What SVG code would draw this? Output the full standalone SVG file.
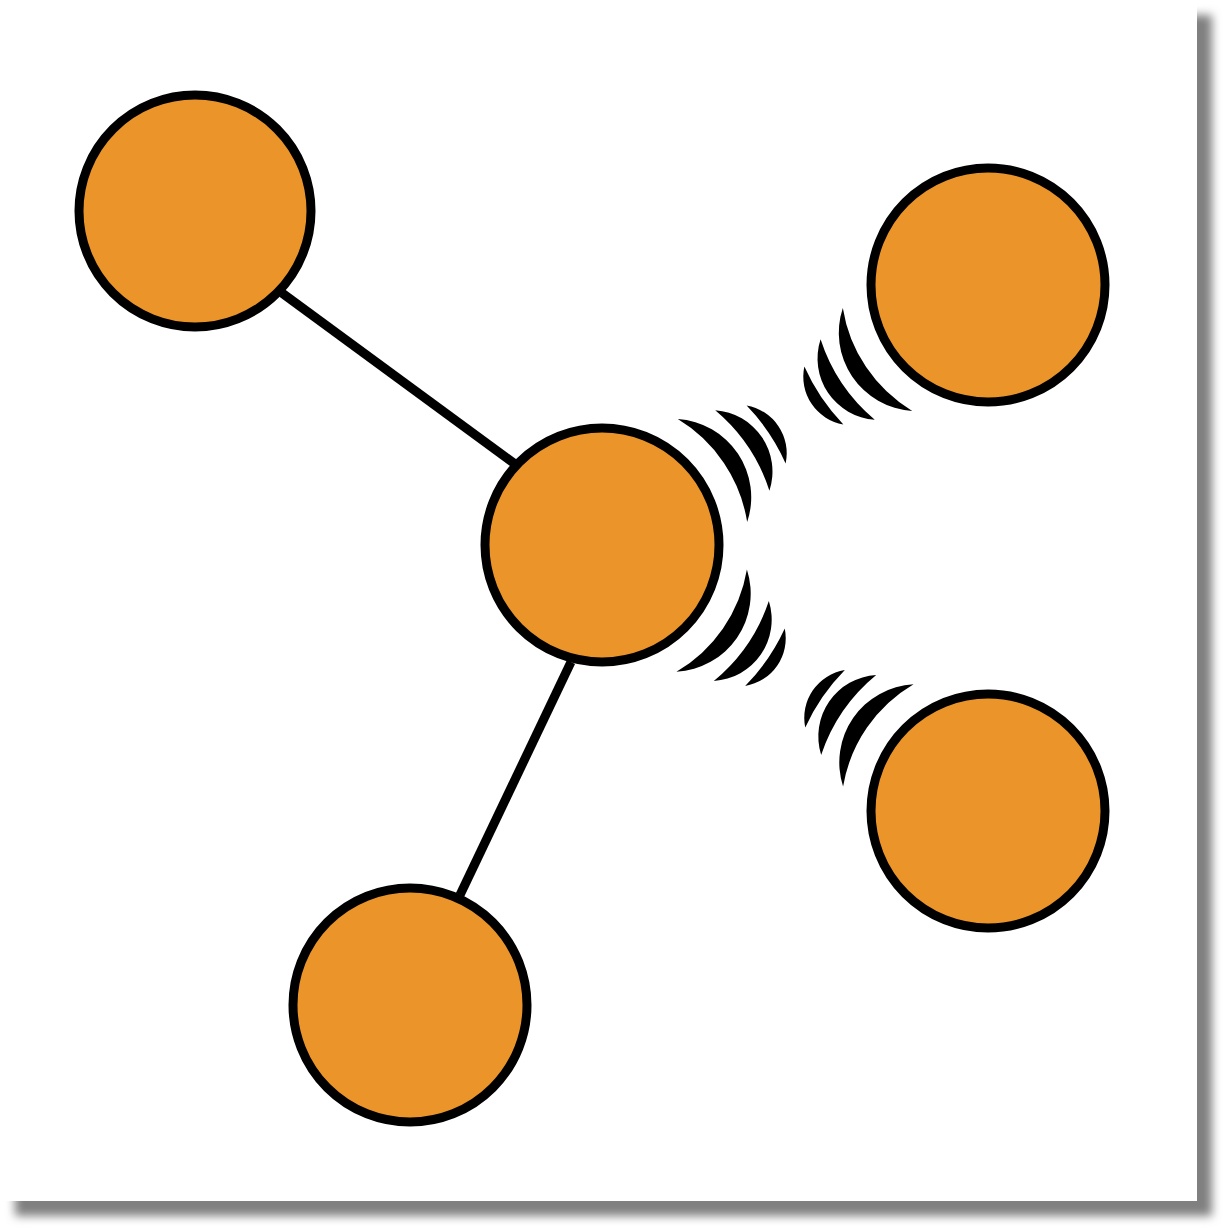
<svg xmlns="http://www.w3.org/2000/svg" xmlns:xlink="http://www.w3.org/1999/xlink" width="1225" height="1230" viewBox="0 0 1225 1230">
<style>
.node{fill:#eb9429;stroke:#000;stroke-width:9}
.edge{stroke:#000;stroke-width:9;fill:none}
.wave{fill:#000;stroke:none}
</style>
<defs>
<filter id="sh" x="-5%" y="-5%" width="110%" height="110%"><feGaussianBlur stdDeviation="5"/></filter>
<g id="waves">
<path class="wave" d="M133.2,-62.1 A147,147 0 0 1 133.2,62.1 A78.3,78.3 0 0 0 133.2,-62.1 Z"/>
<path class="wave" d="M169.2,-48.5 A176,176 0 0 1 169.2,48.5 A61.5,61.5 0 0 0 169.2,-48.5 Z"/>
<path class="wave" d="M197.9,-34.9 A201,201 0 0 1 197.9,34.9 A48.5,48.5 0 0 0 197.9,-34.9 Z"/>
</g>
</defs>
<rect x="15" y="15" width="1197" height="1201" fill="#808080" filter="url(#sh)"/>
<rect x="0" y="0" width="1197" height="1201" fill="#fff"/>
<g id="connectors">
<line class="edge" x1="282" y1="293" x2="515" y2="464"/>
<line class="edge" x1="571" y1="662" x2="460" y2="895"/>
<use xlink:href="#waves" transform="translate(602,545) rotate(-33.96)"/>
<use xlink:href="#waves" transform="translate(988,285) rotate(146.04)"/>
<use xlink:href="#waves" transform="translate(602,545) rotate(34.57)"/>
<use xlink:href="#waves" transform="translate(988,811) rotate(-145.43)"/>
</g>
<g id="n1"><circle class="node" cx="195" cy="211" r="116"/></g>
<g id="n2"><circle class="node" cx="602" cy="545" r="117"/></g>
<g id="n3"><circle class="node" cx="988" cy="285" r="117"/></g>
<g id="n4"><circle class="node" cx="988" cy="811" r="117"/></g>
<g id="n5"><circle class="node" cx="410" cy="1005" r="117"/></g>
</svg>
